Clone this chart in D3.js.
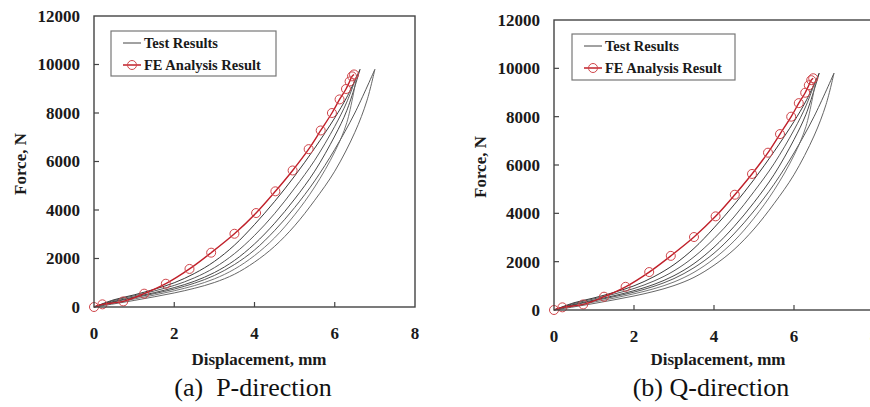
<!DOCTYPE html>
<html>
<head>
<meta charset="utf-8">
<script src="https://cdn.jsdelivr.net/npm/d3@7"></script>
<style>
  body { margin: 0; background: #fff; }
  svg { display: block; font-family: "Liberation Serif", "Times New Roman", serif; }
</style>
</head>
<body>
<svg id="chart" width="870" height="407"></svg>
<script>
// test results: force (N) read at common displacements (mm), plus each curve's top end
const dispLevels = [0, 0.5, 1, 1.5, 2, 2.5, 3, 3.5, 4, 4.5, 5, 5.5, 6];
const test1F = [0, 300, 500, 730, 1000, 1380, 1880, 2550, 3400, 4350, 5400, 6550, 7800];
const test2F = [0, 270, 460, 660, 890, 1200, 1620, 2200, 2950, 3850, 4900, 6050, 7450];
const test3F = [0, 230, 410, 590, 800, 1060, 1420, 1920, 2600, 3450, 4450, 5600, 7050];
const test4F = [0, 210, 380, 550, 740, 980, 1300, 1750, 2350, 3150, 4100, 5200, 6500];
const test5F = [0, 170, 330, 490, 670, 880, 1160, 1560, 2120, 2850, 3800, 4950, 6400];
const test6F = [0, 130, 270, 420, 580, 770, 1010, 1350, 1850, 2500, 3350, 4400, 5600];
const tailX = [[6.3, 6.63], [6.3, 6.55], [6.3, 6.63], [6.5, 7.0], [6.3, 6.55], [6.5, 6.8, 7.0]];
const tailF = [[8650, 9800], [8450, 9550], [8100, 9800], [8000, 9800], [7600, 9550], [7200, 8500, 9800]];
const testShade = ['#222', '#444', '#333', '#444', '#666', '#555'];

// FE analysis points
const feX = [0, 0.21, 0.73, 1.25, 1.79, 2.38, 2.92, 3.50, 4.04, 4.52, 4.95, 5.35, 5.65, 5.93, 6.12, 6.28, 6.37, 6.43, 6.48];
const feF = [0, 110, 230, 550, 960, 1570, 2240, 3020, 3875, 4770, 5630, 6510, 7280, 8000, 8560, 8990, 9300, 9510, 9590];

const xTicks = [0, 2, 4, 6, 8];
const yTicks = [0, 2000, 4000, 6000, 8000, 10000, 12000];
const legendLabels = ['Test Results', 'FE Analysis Result'];

const testCurves = [test1F, test2F, test3F, test4F, test5F, test6F].map((fs, i) => {
  const pts = fs.map((f, j) => [dispLevels[j], f]);
  tailX[i].forEach((x, j) => pts.push([x, tailF[i][j]]));
  return pts;
});
const fePoints = feX.map((x, i) => [x, feF[i]]);

const panels = [
  { left: 94, right: 415, top: 16, bottom: 307, caption: '(a)  P-direction', capX: 253,
    xTitleX: 259, yTitleY: 164, yTitleX: 20, legend: { x: 111, y: 31, w: 165, h: 45 } },
  { left: 554, right: 874, top: 20, bottom: 310, caption: '(b) Q-direction', capX: 711,
    xTitleX: 718, yTitleY: 167, yTitleX: 480, legend: { x: 572, y: 34, w: 163, h: 46 } }
];

const svg = d3.select('#chart');
svg.append('rect').attr('width', 870).attr('height', 407).attr('fill', '#fff');

panels.forEach(p => {
  const x = d3.scaleLinear().domain([0, 8]).range([p.left, p.right]);
  const y = d3.scaleLinear().domain([0, 12000]).range([p.bottom, p.top]);
  const g = svg.append('g');

  // test curves
  const line = d3.line().x(d => x(d[0])).y(d => y(d[1])).curve(d3.curveCatmullRom.alpha(0.5));
  g.selectAll('path.test')
    .data(testCurves)
    .join('path')
    .attr('class', 'test')
    .attr('d', line)
    .attr('fill', 'none')
    .attr('stroke', (d, i) => testShade[i])
    .attr('stroke-width', 0.9);

  // FE curve
  const feLine = d3.line().x(d => x(d[0])).y(d => y(d[1])).curve(d3.curveCatmullRom);
  g.append('path')
    .attr('d', feLine(fePoints))
    .attr('fill', 'none')
    .attr('stroke', '#c0202a')
    .attr('stroke-width', 1.4);
  g.selectAll('circle.fe')
    .data(fePoints)
    .join('circle')
    .attr('class', 'fe')
    .attr('cx', d => x(d[0]))
    .attr('cy', d => y(d[1]))
    .attr('r', 4.5)
    .attr('fill', 'none')
    .attr('stroke', '#d0454a')
    .attr('stroke-width', 1);

  // frame
  g.append('rect')
    .attr('x', p.left).attr('y', p.top)
    .attr('width', p.right - p.left).attr('height', p.bottom - p.top)
    .attr('fill', 'none').attr('stroke', '#444').attr('stroke-width', 1.4);

  // ticks (inward)
  g.selectAll('line.xt').data(xTicks.slice(1, -1)).join('line')
    .attr('x1', d => x(d)).attr('x2', d => x(d))
    .attr('y1', p.bottom).attr('y2', p.bottom - 5)
    .attr('stroke', '#444').attr('stroke-width', 1.2);
  g.selectAll('line.yt').data(yTicks.slice(1, -1)).join('line')
    .attr('y1', d => y(d)).attr('y2', d => y(d))
    .attr('x1', p.left).attr('x2', p.left + 5)
    .attr('stroke', '#444').attr('stroke-width', 1.2);

  // tick labels
  g.selectAll('text.xl').data(xTicks).join('text')
    .attr('x', d => x(d)).attr('y', p.bottom + 32)
    .attr('text-anchor', 'middle')
    .style('font-size', '17px').style('font-weight', 'bold').attr('fill', '#1a1a1a')
    .text(d => d);
  g.selectAll('text.yl').data(yTicks).join('text')
    .attr('x', p.left - 14).attr('y', d => y(d)).attr('dy', '0.35em')
    .attr('text-anchor', 'end')
    .style('font-size', '17px').style('font-weight', 'bold').attr('fill', '#1a1a1a')
    .text(d => d);

  // axis titles
  g.append('text')
    .attr('x', p.xTitleX).attr('y', 365)
    .attr('text-anchor', 'middle')
    .style('font-size', '17px').style('font-weight', 'bold').attr('fill', '#1a1a1a')
    .text('Displacement, mm');
  g.append('text')
    .attr('transform', `translate(${p.yTitleX},${p.yTitleY}) rotate(-90)`)
    .attr('dy', '0.35em')
    .attr('text-anchor', 'middle')
    .style('font-size', '17px').style('font-weight', 'bold').attr('fill', '#1a1a1a')
    .text('Force, N');

  // caption
  g.append('text')
    .attr('x', p.capX).attr('y', 396)
    .attr('text-anchor', 'middle')
    .style('font-size', '26px').style('white-space', 'pre').attr('fill', '#111')
    .text(p.caption);

  // legend
  const L = p.legend;
  const lg = g.append('g');
  lg.append('rect')
    .attr('x', L.x).attr('y', L.y).attr('width', L.w).attr('height', L.h)
    .attr('fill', '#fff').attr('stroke', '#777').attr('stroke-width', 1.2);
  const rowY = [L.y + 12, L.y + 34];
  lg.append('line')
    .attr('x1', L.x + 12).attr('x2', L.x + 30).attr('y1', rowY[0]).attr('y2', rowY[0])
    .attr('stroke', '#444').attr('stroke-width', 1);
  lg.append('line')
    .attr('x1', L.x + 12).attr('x2', L.x + 30).attr('y1', rowY[1]).attr('y2', rowY[1])
    .attr('stroke', '#c0202a').attr('stroke-width', 1.5);
  lg.append('circle')
    .attr('cx', L.x + 21).attr('cy', rowY[1]).attr('r', 4.5)
    .attr('fill', 'none').attr('stroke', '#d0454a');
  lg.selectAll('text').data(legendLabels).join('text')
    .attr('x', L.x + 33).attr('y', (d, i) => rowY[i]).attr('dy', '0.35em')
    .style('font-size', '14.5px').style('font-weight', 'bold').attr('fill', '#1a1a1a')
    .text(d => d);
});
</script>
</body>
</html>
